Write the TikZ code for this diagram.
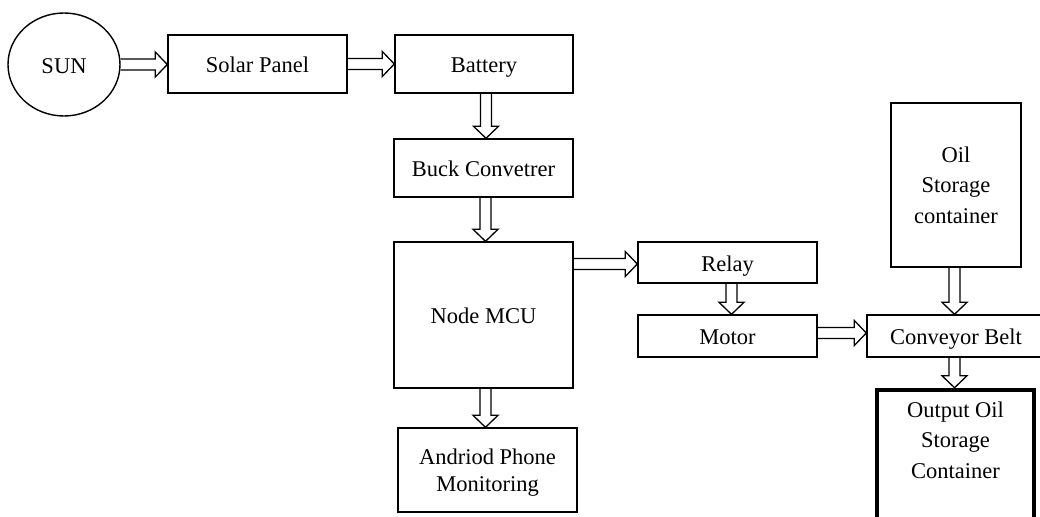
\documentclass[tikz,border=0pt]{standalone}
\usepackage{fontspec}
\setmainfont{Liberation Serif}
\usetikzlibrary{calc,shapes.geometric}
\begin{document}
\begin{tikzpicture}[x=1pt,y=-1pt,
  txt/.style={font=\fontsize{22.5}{30.5}\selectfont, align=center},
  box/.style={draw, line width=1.4pt, rectangle, inner sep=0pt, txt},
  oneline/.style={text height=18.4pt, text depth=1pt},
  harrow/.style={line width=1.3pt, line join=miter,
    to path={let \p1=(\tikztostart), \p2=(\tikztotarget) in
      (\x1,\y1+5.5pt) -- (\x2-12pt,\y1+5.5pt) -- (\x2-12pt,\y1+12.5pt) -- (\x2,\y1)
      -- (\x2-12pt,\y1-12.5pt) -- (\x2-12pt,\y1-5.5pt) -- (\x1,\y1-5.5pt)}},
  varrow/.style={line width=1.3pt, line join=miter,
    to path={let \p1=(\tikztostart), \p2=(\tikztotarget) in
      (\x1-5.5pt,\y1) -- (\x1-5.5pt,\y2+12pt) -- (\x1-12.5pt,\y2+12pt) -- (\x1,\y2)
      -- (\x1+12.5pt,\y2+12pt) -- (\x1+5.5pt,\y2+12pt) -- (\x1+5.5pt,\y1)}}
]
\useasboundingbox (0,0) rectangle (1040,516);

\node[draw, ellipse, line width=1.4pt, inner sep=0pt, minimum width=112pt, minimum height=103pt, txt, oneline] (sun) at (64,64.5) {SUN};
\node[box, oneline, minimum width=179pt, minimum height=58pt] (solar) at (257.5,64) {Solar Panel};
\node[box, oneline, minimum width=178pt, minimum height=58pt] (battery) at (484,64) {Battery};
\node[box, oneline, minimum width=179pt, minimum height=58pt] (buck) at (483.5,168) {Buck Convetrer};
\node[box, oneline, minimum width=179pt, minimum height=146pt] (nodemcu) at (483.5,315) {Node MCU};
\node[box, minimum width=179pt, minimum height=84pt,
  label={[txt, font=\fontsize{22.5}{27}\selectfont, yshift=-3pt]center:Andriod Phone\\Monitoring}] (andriod) at (487.5,470) {};
\node[box, oneline, minimum width=179pt, minimum height=41pt] (relay) at (727.5,262.5) {Relay};
\node[box, oneline, minimum width=179pt, minimum height=42pt] (motor) at (727.5,336) {Motor};
\node[box, oneline, minimum width=178pt, minimum height=42pt] (conveyor) at (956,336) {Conveyor Belt};
\node[box, minimum width=130pt, minimum height=164pt] (oil) at (956,185) {Oil\\Storage\\container};
\node[box, line width=4.5pt, minimum width=157pt, minimum height=150pt,
  label={[txt, yshift=25pt]center:Output Oil\\Storage\\Container}] (output) at (955.5,465) {};

\draw[harrow] (sun.east) to (solar.west);
\draw[harrow] (solar.east) to (battery.west);
\draw[varrow] ([xshift=2pt]battery.south) to ([xshift=2pt]buck.north);
\draw[varrow] ([xshift=2pt]buck.south) to ([xshift=2pt]nodemcu.north);
\draw[varrow] ([xshift=2pt]nodemcu.south) to ([xshift=2pt]nodemcu.south |- andriod.north);
\draw[harrow] ([yshift=-1.5pt]nodemcu.east |- relay.west) to ([yshift=-1.5pt]relay.west);
\draw[varrow] ([xshift=4pt]relay.south) to ([xshift=4pt]motor.north);
\draw[harrow] ([yshift=3pt]motor.east) to ([yshift=3pt]conveyor.west);
\draw[varrow] ([xshift=-1.5pt]oil.south) to ([xshift=-1.5pt]oil.south |- conveyor.north);
\draw[varrow] ([xshift=-1.5pt]conveyor.south) to ([xshift=-1.5pt]conveyor.south |- output.north);
\end{tikzpicture}
\end{document}
